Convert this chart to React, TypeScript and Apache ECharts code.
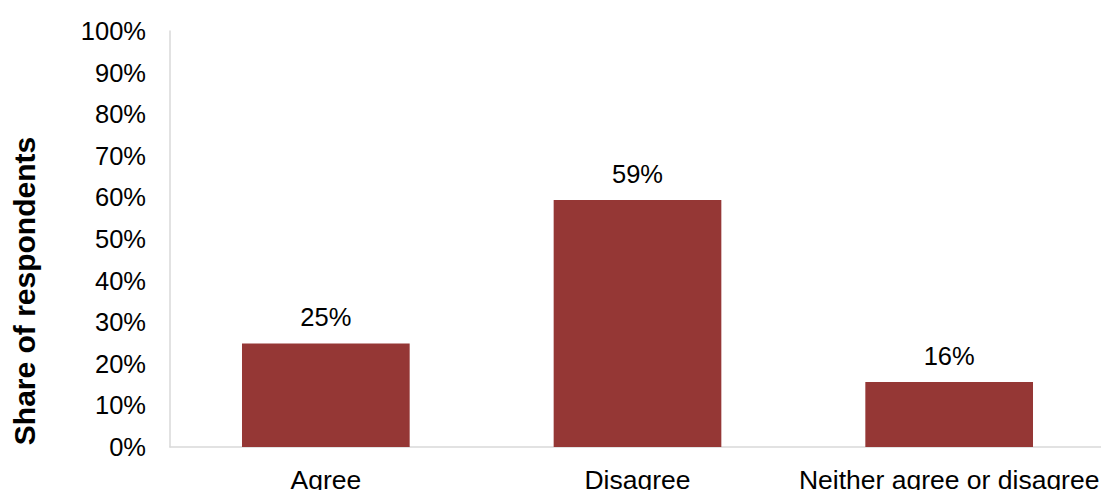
import React, { useEffect, useRef } from "react";
import * as echarts from "echarts";

const categories = ["Agree", "Disagree", "Neither agree or disagree"];
const shares = [24.9, 59.4, 15.6];
const yTicks = { min: 0, max: 100, interval: 10 };
const yTitle = "Share of respondents";

export default function App() {
  const ref = useRef<HTMLDivElement>(null);
  useEffect(() => {
    document.body.style.margin = "0";
    const chart = echarts.init(ref.current!, undefined, { renderer: "svg" });
    const font = "'Liberation Sans', Arial, Helvetica, sans-serif";
    chart.setOption({
      animation: false,
      textStyle: { fontFamily: font },
      grid: {
        left: 170,
        top: 31,
        width: 935,
        height: 416,
        containLabel: false,
        outerBoundsMode: "none",
      },
      xAxis: {
        type: "category",
        data: categories,
        axisLine: { show: true, lineStyle: { color: "#d9d9d9", width: 1.5 } },
        axisTick: { show: false },
        axisLabel: { color: "#000", fontSize: 26.5, margin: 19, fontFamily: font, interval: 0 },
      },
      yAxis: {
        type: "value",
        min: yTicks.min,
        max: yTicks.max,
        interval: yTicks.interval,
        axisLine: { show: true, lineStyle: { color: "#d9d9d9", width: 1.5 } },
        axisTick: { show: false },
        splitLine: { show: false },
        axisLabel: { color: "#000", fontSize: 25.5, margin: 24, fontFamily: font, formatter: "{value}%" },
      },
      graphic: [
        {
          type: "text",
          x: 24,
          y: 291,
          rotation: Math.PI / 2,
          style: {
            text: yTitle,
            fontSize: 30,
            fontWeight: "bold",
            fontFamily: font,
            fill: "#000",
            align: "center",
            verticalAlign: "middle",
          },
        },
      ],
      series: [
        {
          type: "bar",
          data: shares,
          barWidth: "53.8%",
          itemStyle: { color: "#953735" },
          label: {
            show: true,
            position: "top",
            distance: 13,
            color: "#000",
            fontSize: 25.5,
            fontFamily: font,
            formatter: (p: any) => Math.round(p.value) + "%",
          },
        },
      ],
    });
    return () => chart.dispose();
  }, []);
  return <div ref={ref} style={{ width: 1101, height: 490 }} />;
}
